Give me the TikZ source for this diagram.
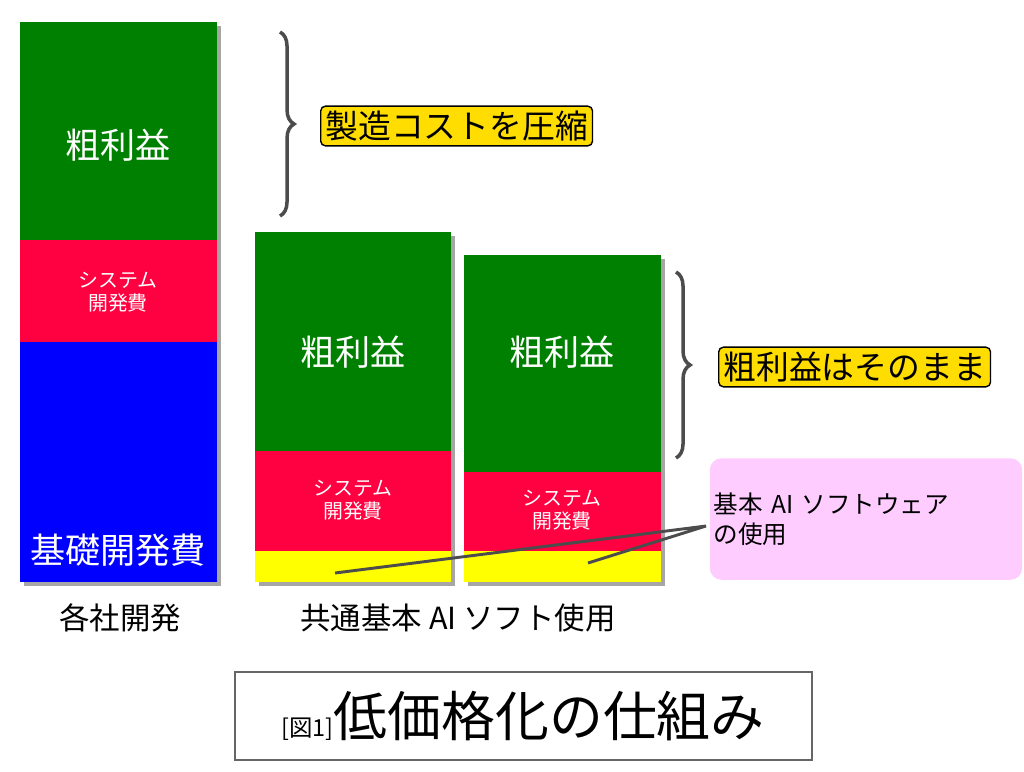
\documentclass[tikz,border=0pt]{standalone}
\usepackage{fontspec}
\setmainfont{Noto Sans CJK JP}
\usetikzlibrary{decorations.pathreplacing}
\definecolor{profit}{RGB}{0,128,0}
\definecolor{sysdev}{RGB}{255,0,64}
\definecolor{basedev}{RGB}{0,0,255}
\definecolor{aisoft}{RGB}{255,255,0}
\definecolor{tagyel}{RGB}{255,221,0}
\definecolor{pinkbox}{RGB}{255,204,255}
\tikzset{
  block/.style={draw=none},
  shade/.style={fill=black!35},
  intext/.style={text=white, align=center, font=\fontsize{17}{20}\selectfont},
  bigtext/.style={text=white, font=\fontsize{30}{34}\selectfont},
  tag/.style={draw=black, line width=1.2pt, rounded corners=4pt, fill=tagyel, font=\fontsize{28}{32}\selectfont, inner sep=4pt},
  brace/.style={decorate, decoration={brace, amplitude=12pt}, line width=3pt, draw=black!70},
}
\begin{document}
\begin{tikzpicture}[x=0.03cm, y=-0.03cm]
\useasboundingbox (0,0) rectangle (1024,771);
% shadows
\fill[shade] (24,26) rectangle (221,586);
\fill[shade] (259,236) rectangle (455,586);
\fill[shade] (468,259) rectangle (665,586);
% bar 1
\fill[profit] (20,22) rectangle (217,240);
\fill[sysdev] (20,240) rectangle (217,342);
\fill[basedev] (20,342) rectangle (217,582);
\node[bigtext] (p1) at (118,145) {粗利益};
\node[intext] (s1) at (118,292) {システム\\開発費};
\node[bigtext] (b1) at (118,550) {基礎開発費};
% bar 2
\fill[profit] (255,232) rectangle (451,451);
\fill[sysdev] (255,451) rectangle (451,551);
\fill[aisoft] (255,551) rectangle (451,582);
\node[bigtext] (p2) at (353,352) {粗利益};
\node[intext] (s2) at (353,500) {システム\\開発費};
\coordinate (y2) at (335,573);
% bar 3
\fill[profit] (464,255) rectangle (661,472);
\fill[sysdev] (464,472) rectangle (661,551);
\fill[aisoft] (464,551) rectangle (661,582);
\node[bigtext] (p3) at (562,352) {粗利益};
\node[intext] (s3) at (562,510) {システム\\開発費};
\coordinate (y3) at (588,563);
% braces
\draw[brace] (280,32) -- (280,216);
\draw[brace] (676,272) -- (676,458);
\node[tag, anchor=west] (t1) at (320,126) {製造コストを圧縮};
\node[tag, anchor=west] (t2) at (718,367) {粗利益はそのまま};
% note
\node[fill=pinkbox, rounded corners=10pt, minimum width=297\pgflinewidth, text width=260, align=left,
      font=\fontsize{21}{26}\selectfont, minimum height=122*0.85pt] (note) at (866,519) {基本 AI ソフトウェア\\の使用};
\coordinate (nl) at (706,526);
\draw[line width=2.5pt, black!70] (y2) -- (nl) -- (y3);
% captions
\node[font=\fontsize{26}{30}\selectfont] (c1) at (120,618) {各社開発};
\node[font=\fontsize{26}{30}\selectfont] (c2) at (458,618) {共通基本 AI ソフト使用};
\draw[black!60, line width=1pt] (235,672) rectangle (812,760);
\node (title) at (523,716) {\fontsize{20}{24}\selectfont[図1]\fontsize{46}{52}\selectfont 低価格化の仕組み};
\end{tikzpicture}
\end{document}
